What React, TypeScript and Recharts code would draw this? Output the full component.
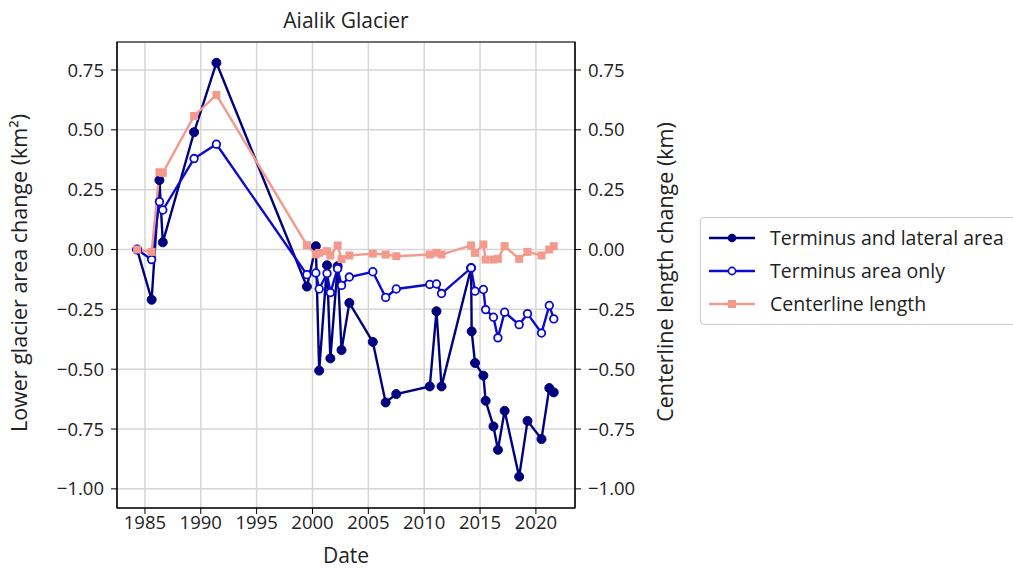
import {
  CartesianGrid,
  Line,
  LineChart,
  ReferenceArea,
  XAxis,
  YAxis,
} from 'recharts'

const dates = [
  1984.3, 1985.6, 1986.3, 1986.6, 1989.4, 1991.4, 1999.5, 2000.3, 2000.6, 2001.3,
  2001.6, 2002.25, 2002.6, 2003.3, 2005.4, 2006.55, 2007.5, 2010.5, 2011.1, 2011.55,
  2014.2, 2014.25, 2014.55, 2015.3, 2015.5, 2016.2, 2016.6, 2017.2, 2018.5, 2019.25,
  2020.5, 2021.2, 2021.6,
]

const terminusLateral = [
  0, -0.21, 0.29, 0.03, 0.49, 0.78, -0.155, 0.014, -0.506, -0.066,
  -0.455, -0.07, -0.42, -0.223, -0.386, -0.639, -0.604, -0.572, -0.258, -0.572,
  -0.077, -0.342, -0.474, -0.527, -0.632, -0.739, -0.837, -0.674, -0.949, -0.716,
  -0.792, -0.579, -0.597,
]

const terminusOnly = [
  0, -0.042, 0.2, 0.165, 0.38, 0.44, -0.105, -0.098, -0.165, -0.1,
  -0.18, -0.08, -0.15, -0.115, -0.093, -0.2, -0.165, -0.146, -0.144, -0.184,
  -0.077, null, -0.174, -0.167, -0.251, -0.283, -0.369, -0.262, -0.314, -0.268,
  -0.349, -0.234, -0.29,
]

const centerline = [
  0, -0.01, 0.323, 0.32, 0.558, 0.646, 0.018, -0.02, -0.014, -0.007,
  -0.025, 0.017, -0.04, -0.025, -0.017, -0.021, -0.028, -0.021, -0.014, -0.021,
  0.017, null, -0.014, 0.021, -0.042, -0.042, -0.039, 0.014, -0.039, -0.01,
  -0.025, 0.0, 0.014,
]

const xTicks = [1985, 1990, 1995, 2000, 2005, 2010, 2015, 2020]
const yTicks = [0.75, 0.5, 0.25, 0, -0.25, -0.5, -0.75, -1.0]

const data = dates.map((date, i) => ({
  date,
  lateral: terminusLateral[i],
  only: terminusOnly[i],
  centerline: centerline[i],
}))

const FONT = '"Open Sans", sans-serif'
const DARK = '#00007f'
const BLUE = '#0a0ad0'
const SALMON = '#f49a8c'

const tickStyle = { fill: '#222', fontSize: 18.5, fontFamily: FONT }
const fmt = (v: number) => (v < 0 ? '\u2212' + Math.abs(v).toFixed(2) : v.toFixed(2))

function SquareDot(props: any) {
  const { cx, cy, index } = props
  if (cx == null || cy == null || isNaN(cx) || isNaN(cy)) return <g key={`sq-${index}`} />
  return <rect key={`sq-${index}`} x={cx - 4} y={cy - 4} width={8} height={8} fill={SALMON} />
}

const legendItems = [
  { label: 'Terminus and lateral area', color: DARK, kind: 'filled' },
  { label: 'Terminus area only', color: BLUE, kind: 'open' },
  { label: 'Centerline length', color: SALMON, kind: 'square' },
]

function LegendBox() {
  return (
    <div
      style={{
        position: 'absolute',
        left: 700,
        top: 217,
        border: '1px solid #ccc',
        borderRadius: 4,
        background: '#fff',
        width: 330,
        height: 108,
        boxSizing: 'border-box',
        paddingTop: 3,
        fontFamily: FONT,
        fontSize: 19.5,
        color: '#222',
      }}
    >
      {legendItems.map((it) => (
        <div key={it.label} style={{ display: 'flex', alignItems: 'center', height: 33 }}>
          <svg width={62} height={20} style={{ marginLeft: 6 }}>
            <line x1={2} y1={10} x2={48} y2={10} stroke={it.color} strokeWidth={2.4} />
            {it.kind === 'filled' && <circle cx={25} cy={10} r={4.3} fill={it.color} />}
            {it.kind === 'open' && (
              <circle cx={25} cy={10} r={3.6} fill="#fff" stroke={it.color} strokeWidth={1.6} />
            )}
            {it.kind === 'square' && <rect x={21} y={6} width={8} height={8} fill={it.color} />}
          </svg>
          <span style={{ marginLeft: 1 }}>{it.label}</span>
        </div>
      ))}
    </div>
  )
}

export default function App() {
  return (
    <div style={{ position: 'absolute', left: 0, top: 0, width: 1013, height: 569, background: '#fff' }}>
      <LineChart
        width={1013}
        height={569}
        data={data}
        margin={{ top: 42, right: 378, bottom: 31, left: 57 }}
      >
        <CartesianGrid yAxisId="left" stroke="#d6d6d6" strokeWidth={1.5} />
        <XAxis
          dataKey="date"
          type="number"
          domain={[1982.5, 2023.5]}
          ticks={xTicks}
          allowDataOverflow
          height={30}
          tick={tickStyle}
          tickLine={{ stroke: '#000' }}
          axisLine={{ stroke: '#000' }}
          tickSize={6}
          label={{
            content: () => (
              <text x={346} y={563} textAnchor="middle" fontFamily={FONT} fontSize={21} fill="#222">
                Date
              </text>
            ),
          }}
        />
        <YAxis
          yAxisId="left"
          type="number"
          domain={[-1.08, 0.867]}
          ticks={yTicks}
          allowDataOverflow
          width={60}
          tick={tickStyle}
          tickLine={{ stroke: '#000' }}
          axisLine={{ stroke: '#000' }}
          tickSize={6}
          tickMargin={7}
          tickFormatter={fmt}
          label={{
            content: () => (
              <text
                x={27}
                y={273}
                transform="rotate(-90 27 273)"
                textAnchor="middle"
                fontFamily={FONT}
                fontSize={21.5}
                fill="#222"
              >
                Lower glacier area change (km²)
              </text>
            ),
          }}
        />
        <YAxis
          yAxisId="right"
          orientation="right"
          type="number"
          domain={[-1.08, 0.867]}
          ticks={yTicks}
          allowDataOverflow
          width={60}
          tick={tickStyle}
          tickLine={{ stroke: '#000' }}
          axisLine={{ stroke: '#000' }}
          tickSize={6}
          tickMargin={7}
          tickFormatter={fmt}
          label={{
            content: () => (
              <text
                x={673}
                y={272}
                transform="rotate(-90 673 272)"
                textAnchor="middle"
                fontFamily={FONT}
                fontSize={21.5}
                fill="#222"
              >
                Centerline length change (km)
              </text>
            ),
          }}
        />
        <ReferenceArea
          yAxisId="left"
          x1={1982.5}
          x2={2023.5}
          y1={-1.08}
          y2={0.867}
          fill="none"
          stroke="#000"
          strokeWidth={1.2}
          ifOverflow="extendDomain"
        />
        <Line
          yAxisId="left"
          dataKey="lateral"
          stroke={DARK}
          strokeWidth={2.4}
          dot={{ r: 4.5, fill: DARK, stroke: DARK, strokeWidth: 1 }}
          connectNulls
          isAnimationActive={false}
        />
        <Line
          yAxisId="left"
          dataKey="only"
          stroke={BLUE}
          strokeWidth={2.4}
          dot={{ r: 3.8, fill: '#fff', stroke: BLUE, strokeWidth: 1.8 }}
          connectNulls
          isAnimationActive={false}
        />
        <Line
          yAxisId="right"
          dataKey="centerline"
          stroke={SALMON}
          strokeWidth={2.4}
          dot={(p: any) => <SquareDot {...p} />}
          connectNulls
          isAnimationActive={false}
        />
        <text x={346} y={28} textAnchor="middle" fontFamily={FONT} fontSize={21} fill="#222">
          Aialik Glacier
        </text>
      </LineChart>
      <LegendBox />
    </div>
  )
}
